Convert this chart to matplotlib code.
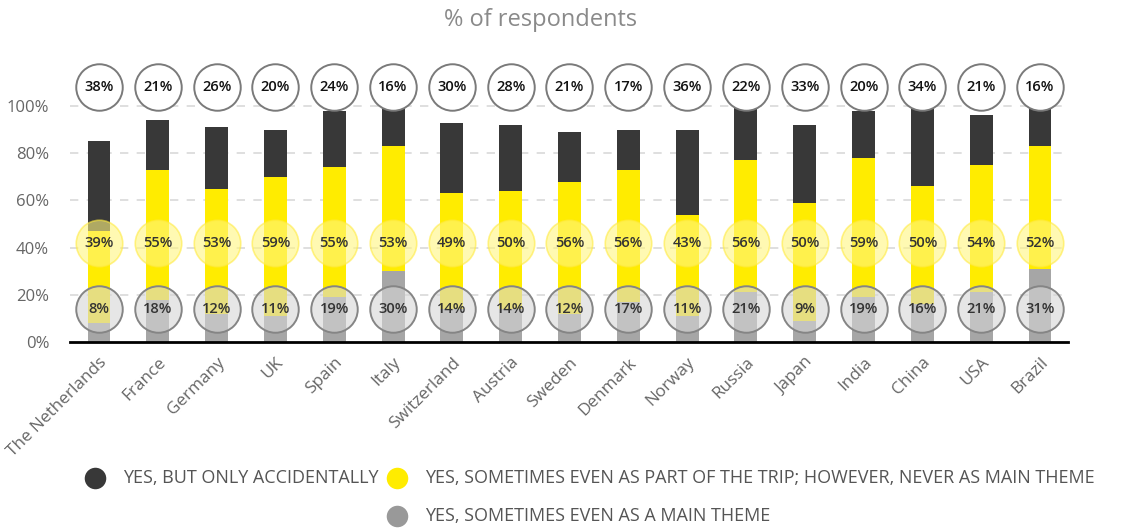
import matplotlib
matplotlib.use("Agg")
import matplotlib.pyplot as plt
from matplotlib.lines import Line2D
import numpy as np

countries = ["The Netherlands", "France", "Germany", "UK", "Spain", "Italy",
             "Switzerland", "Austria", "Sweden", "Denmark", "Norway", "Russia",
             "Japan", "India", "China", "USA", "Brazil"]
accidental = [38, 21, 26, 20, 24, 16, 30, 28, 21, 17, 36, 22, 33, 20, 34, 21, 16]
part_of_trip = [39, 55, 53, 59, 55, 53, 49, 50, 56, 56, 43, 56, 50, 59, 50, 54, 52]
main_theme = [8, 18, 12, 11, 19, 30, 14, 14, 12, 17, 11, 21, 9, 19, 16, 21, 31]
yticks = [0, 20, 40, 60, 80, 100]
title = "% of respondents"
legend_labels = ["YES, BUT ONLY ACCIDENTALLY",
                 "YES, SOMETIMES EVEN AS PART OF THE TRIP; HOWEVER, NEVER AS MAIN THEME",
                 "YES, SOMETIMES EVEN AS A MAIN THEME"]

DARK = "#383838"
YELLOW = "#FFEC00"
GRAY = "#A6A6A6"
FONT = ["Open Sans", "DejaVu Sans"]
plt.rcParams['font.family'] = FONT

W, H = 1134, 531
fig = plt.figure(figsize=(W / 100, H / 100), dpi=100)
ax_left, ax_right, ax_bottom_px, ax_top_px = 70, 1068, 342, 58.8
ax = fig.add_axes([ax_left / W, (H - ax_bottom_px) / H,
                   (ax_right - ax_left) / W, (ax_bottom_px - ax_top_px) / H])

x = np.arange(len(countries))
mt = np.array(main_theme)
pt = np.array(part_of_trip)
ac = np.array(accidental)
bw = 0.39
ax.bar(x, mt, width=bw, color=GRAY, zorder=2)
ax.bar(x, pt, width=bw, bottom=mt, color=YELLOW, zorder=2)
ax.bar(x, ac, width=bw, bottom=mt + pt, color=DARK, zorder=2)

ax.set_xlim(-0.493, 16.476)
ax.set_ylim(0, 120)

# gridlines
for yv in yticks[1:]:
    ax.axhline(yv, color="#d9d9d9", lw=1.2, ls=(0, (5, 5)), zorder=1)

# bubbles
S = 1120
n = len(countries)
ax.scatter(x, np.full(n, 108), s=S, facecolor="white", edgecolor="#7a7a7a", lw=1.4, zorder=4)
ax.scatter(x, np.full(n, 42), s=S, facecolor=(1.0, 0.96, 0.5, 0.6), edgecolor=(1.0, 0.92, 0.25, 0.6), lw=1.2, zorder=4)
ax.scatter(x, np.full(n, 14), s=S, facecolor=(0.84, 0.84, 0.84, 0.6), edgecolor="#858585", lw=1.4, zorder=4)
for i in range(n):
    ax.text(x[i], 108, f"{accidental[i]}%", ha="center", va="center", fontsize=10.5,
            fontweight="semibold", color="#111111", zorder=5)
    ax.text(x[i], 42, f"{part_of_trip[i]}%", ha="center", va="center", fontsize=10.5,
            fontweight="semibold", color="#333333", zorder=5)
    ax.text(x[i], 14, f"{main_theme[i]}%", ha="center", va="center", fontsize=10.5,
            fontweight="semibold", color="#333333", zorder=5)

for s in ["top", "right", "left"]:
    ax.spines[s].set_visible(False)
ax.spines["bottom"].set_color("black")
ax.spines["bottom"].set_linewidth(2)
ax.spines["bottom"].set_zorder(6)

ax.set_yticks(yticks)
ax.set_yticklabels([f"{v}%" for v in yticks], fontsize=12, color="#666666")
ax.tick_params(axis="y", length=0, pad=15)
ax.set_xticks(x)
ax.set_xticklabels(countries, rotation=45, ha="right", va="top", rotation_mode="anchor",
                   fontsize=12.3, color="#666666")
ax.tick_params(axis="x", length=0, pad=9)

fig.text(541 / W, 1 - 20 / H, title, ha="center", va="center", fontsize=17, color="#8a8a8a")

# legend
leg = [(95, 478, DARK, legend_labels[0]),
       (397, 478, YELLOW, legend_labels[1]),
       (397, 516, "#999999", legend_labels[2])]
for cx, cy, col, lab in leg:
    fig.add_artist(Line2D([cx / W], [1 - cy / H], marker="o", markersize=15.5, color=col,
                          markeredgewidth=0, linestyle="none", transform=fig.transFigure))
    fig.text((cx + 28) / W, 1 - cy / H, lab, ha="left", va="center", fontsize=13, color="#555555")

fig.savefig("out.png", dpi=100)
